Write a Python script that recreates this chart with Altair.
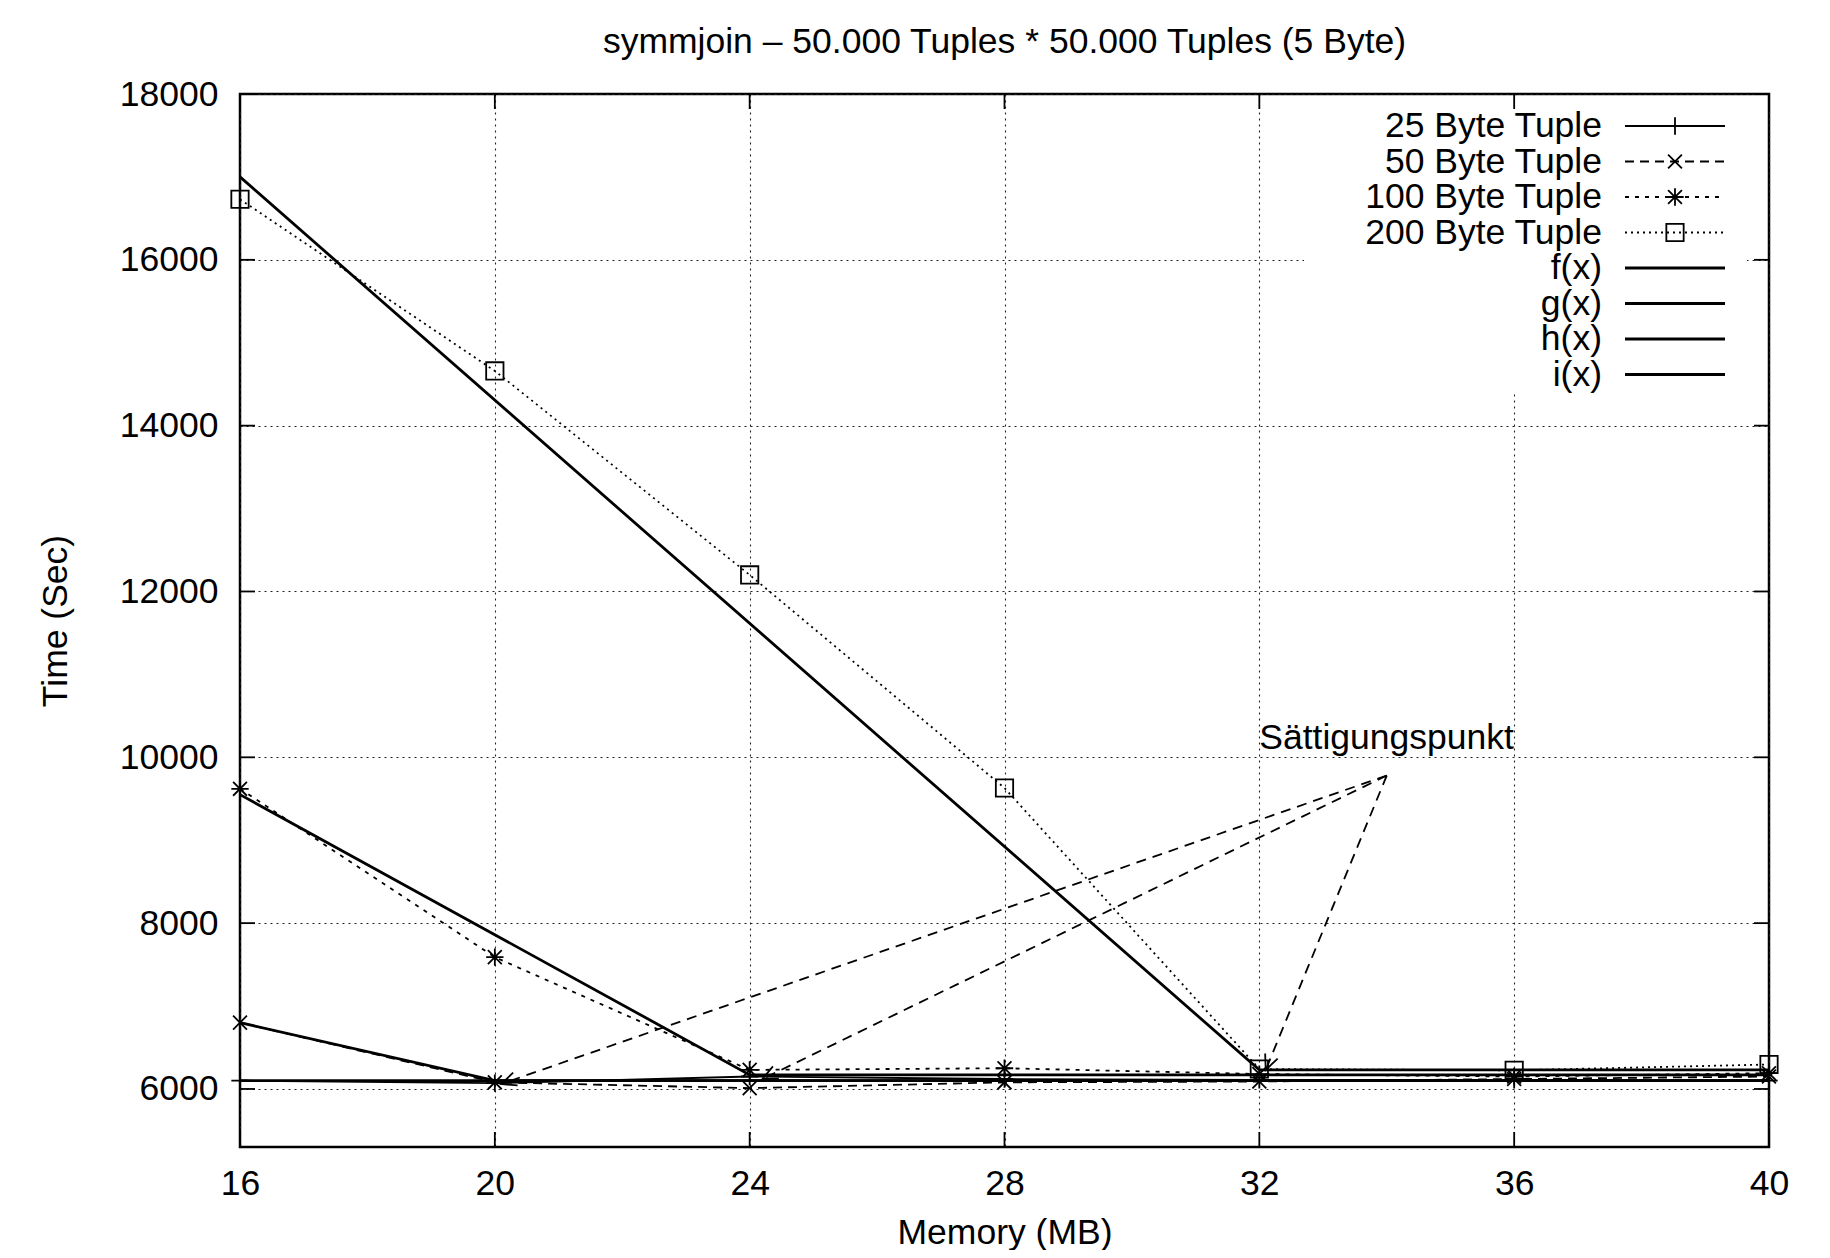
import math
import altair as alt
import pandas as pd

# ---------------- data ----------------
memory = [16, 20, 24, 28, 32, 36, 40]
tuple25 = [6100, 6070, 6150, 6120, 6110, 6110, 6100]
tuple50 = [6800, 6080, 6010, 6080, 6090, 6120, 6150]
tuple100 = [9620, 7590, 6230, 6250, 6180, 6150, 6190]
tuple200 = [16730, 14660, 12200, 9630, 6240, 6225, 6295]

f_x = [16, 40]
f_y = [6100, 6100]
g_x = [16, 20, 40]
g_y = [6800, 6100, 6100]
h_x = [16, 24, 40]
h_y = [9550, 6170, 6170]
i_x = [16, 32, 40]
i_y = [17000, 6230, 6230]

series_names = ["25 Byte Tuple", "50 Byte Tuple", "100 Byte Tuple", "200 Byte Tuple"]
func_names = ["f(x)", "g(x)", "h(x)", "i(x)"]

x_ticks = [16, 20, 24, 28, 32, 36, 40]
y_ticks = [6000, 8000, 10000, 12000, 14000, 16000, 18000]

title_text = "symmjoin – 50.000 Tuples * 50.000 Tuples (5 Byte)"
x_title = "Memory (MB)"
y_title = "Time (Sec)"

annot_text = "Sättigungspunkt"
annot_x = [32]
annot_y = [10230]
arrow_src_x = 34
arrow_src_y = 9780
arrow_dst_x = [20.1, 24.2, 32.1]
arrow_dst_y = [6060, 6120, 6230]

# ---------------- layout / style ----------------
W, H = 1529, 1053
FONT = "Liberation Sans"
FS = 35.5
XDOM = [16, 40]
YDOM = [5300, 18000]
xs = alt.Scale(domain=XDOM, nice=False, zero=False)
ys = alt.Scale(domain=YDOM, nice=False, zero=False)

x_axis = alt.Axis(values=x_ticks, grid=True, ticks=False, tickSize=0, domain=False,
                  labelPadding=19, labelFont=FONT, labelFontSize=FS, labelColor="black",
                  labelFlush=False, labelOverlap=False, format="d",
                  title=x_title, titleFont=FONT, titleFontSize=FS, titleFontWeight="normal",
                  titleColor="black", titleY=85, titleBaseline="middle",
                  gridColor="#222222", gridDash=[2, 4], gridWidth=1.1, gridOpacity=1)
y_axis = alt.Axis(values=y_ticks, grid=True, ticks=False, tickSize=0, domain=False,
                  labelPadding=22, labelFont=FONT, labelFontSize=FS, labelColor="black",
                  labelFlush=False, labelOverlap=False, format="d",
                  title=y_title, titleFont=FONT, titleFontSize=FS, titleFontWeight="normal",
                  titleColor="black", titleX=-185, titleY=H / 2, titleAngle=270,
                  titleBaseline="middle", titleAlign="center",
                  gridColor="#222222", gridDash=[2, 4], gridWidth=1.1, gridOpacity=1)

PLUS = "M -1 0 L 1 0 M 0 -1 L 0 1"
CROSS = "M -0.8 -0.8 L 0.8 0.8 M -0.8 0.8 L 0.8 -0.8"
STAR = PLUS + " " + CROSS
ARROW = "M -1 -0.45 L 0 0 L -1 0.45"

series_vals = [tuple25, tuple50, tuple100, tuple200]
series_dash = [None, [9, 6], [4, 6], [2, 4]]
series_shape = [PLUS, CROSS, STAR, "square"]
func_xs = [f_x, g_x, h_x, i_x]
func_ys = [f_y, g_y, h_y, i_y]
DATA_W = 1.8
FUNC_W = 2.8
MSIZE = 300


def xenc(field):
    return alt.X(field, type="quantitative", scale=xs, axis=x_axis)


def yenc(field):
    return alt.Y(field, type="quantitative", scale=ys, axis=y_axis)


layers = []

# white legend background
layers.append(
    alt.Chart(pd.DataFrame({"a": [0]})).mark_rect(fill="white").encode(
        x=alt.value(1064), x2=alt.value(1507), y=alt.value(2), y2=alt.value(298)
    )
)

# data series
for name, vals, dash, shape in zip(series_names, series_vals, series_dash, series_shape):
    df = pd.DataFrame({"x": memory, "y": vals})
    kw = dict(color="black", strokeWidth=DATA_W)
    if dash:
        kw["strokeDash"] = dash
    layers.append(alt.Chart(df).mark_line(**kw).encode(x=xenc("x"), y=yenc("y")))
    layers.append(
        alt.Chart(df).mark_point(shape=shape, filled=False, size=MSIZE, strokeWidth=1.8,
                                 color="black", opacity=1).encode(x=xenc("x"), y=yenc("y"))
    )

# functions
for name, fx, fy in zip(func_names, func_xs, func_ys):
    df = pd.DataFrame({"x": fx, "y": fy})
    layers.append(alt.Chart(df).mark_line(color="black", strokeWidth=FUNC_W).encode(x=xenc("x"), y=yenc("y")))

# annotation + arrows
layers.append(
    alt.Chart(pd.DataFrame({"x": annot_x, "y": annot_y, "t": [annot_text]})).mark_text(
        align="left", baseline="middle", font=FONT, fontSize=FS, color="black"
    ).encode(x=xenc("x"), y=yenc("y"), text="t:N")
)
px_x = W / (XDOM[1] - XDOM[0])
px_y = H / (YDOM[1] - YDOM[0])
angles = []
for tx, ty in zip(arrow_dst_x, arrow_dst_y):
    dx = (tx - arrow_src_x) * px_x
    dy = -(ty - arrow_src_y) * px_y
    angles.append(math.degrees(math.atan2(dy, dx)) % 360)
arr = pd.DataFrame({
    "x0": [arrow_src_x] * len(arrow_dst_x), "y0": [arrow_src_y] * len(arrow_dst_x),
    "x1": arrow_dst_x, "y1": arrow_dst_y, "ang": angles,
})
layers.append(
    alt.Chart(arr).mark_rule(color="black", strokeWidth=1.8, strokeDash=[10, 7]).encode(
        x=xenc("x0"), y=yenc("y0"), x2="x1:Q", y2="y1:Q"
    )
)
layers.append(
    alt.Chart(arr).mark_point(shape=ARROW, filled=False, size=900, strokeWidth=1.8,
                              color="black", opacity=1).encode(
        x=xenc("x1"), y=yenc("y1"), angle=alt.Angle("ang:Q", scale=None)
    )
)

# inward ticks on all four sides
xt = pd.DataFrame({"v": x_ticks})
yt = pd.DataFrame({"v": y_ticks})
layers.append(alt.Chart(xt).mark_rule(color="black", strokeWidth=1.8).encode(
    x=xenc("v"), y=alt.value(H), y2=alt.value(H - 15)))
layers.append(alt.Chart(xt).mark_rule(color="black", strokeWidth=1.8).encode(
    x=xenc("v"), y=alt.value(0), y2=alt.value(15)))
layers.append(alt.Chart(yt).mark_rule(color="black", strokeWidth=1.8).encode(
    y=yenc("v"), x=alt.value(0), x2=alt.value(15)))
layers.append(alt.Chart(yt).mark_rule(color="black", strokeWidth=1.8).encode(
    y=yenc("v"), x=alt.value(W - 15), x2=alt.value(W)))

# custom legend (gnuplot style)
legend_names = series_names + func_names
legend_dash = series_dash + [None] * 4
legend_shape = series_shape + [None] * 4
legend_width = [DATA_W] * 4 + [FUNC_W] * 4
ROW0, STEP = 32, 35.5
for k, name in enumerate(legend_names):
    ly = ROW0 + STEP * k
    one = pd.DataFrame({"t": [name]})
    layers.append(alt.Chart(one).mark_text(align="right", baseline="middle", font=FONT,
                                           fontSize=FS, color="black").encode(
        x=alt.value(1362), y=alt.value(ly), text="t:N"))
    kw = dict(color="black", strokeWidth=legend_width[k])
    if legend_dash[k]:
        kw["strokeDash"] = legend_dash[k]
    layers.append(alt.Chart(one).mark_rule(**kw).encode(
        x=alt.value(1385), x2=alt.value(1485), y=alt.value(ly)))
    if legend_shape[k]:
        layers.append(alt.Chart(one).mark_point(shape=legend_shape[k], filled=False, size=MSIZE,
                                                strokeWidth=1.8, color="black", opacity=1).encode(
            x=alt.value(1435), y=alt.value(ly)))

chart = alt.layer(*layers).properties(
    width=W, height=H,
    background="white",
    title=alt.TitleParams(text=title_text, font=FONT, fontSize=FS, fontWeight="normal",
                          color="black", anchor="middle", offset=17),
    autosize=alt.AutoSizeParams(type="none"),
    padding={"left": 232, "top": 86, "right": 53, "bottom": 103},
).configure_view(stroke="black", strokeWidth=2.5)

chart.save("out.html", embed_options={"renderer": "svg", "actions": False})
